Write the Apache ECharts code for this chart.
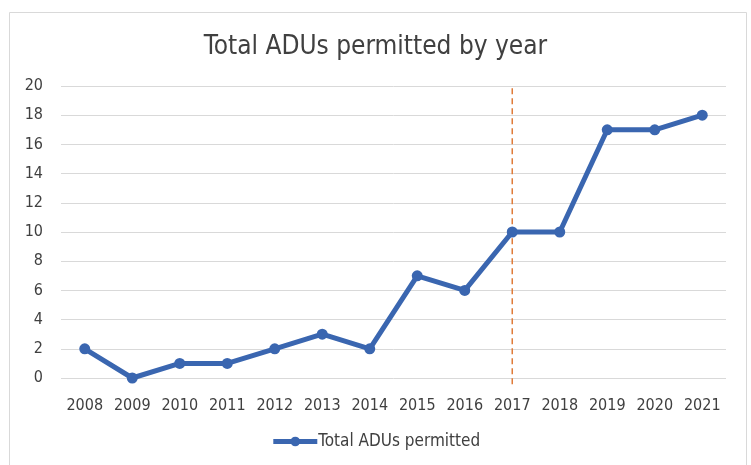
<!DOCTYPE html>
<html>
<head>
<meta charset="utf-8">
<script src="https://cdn.jsdelivr.net/npm/echarts@6/dist/echarts.min.js"></script>
<style>
  html, body { margin: 0; padding: 0; background: #fff; }
  #chart { width: 751px; height: 465px; }
</style>
</head>
<body>
<div id="chart"></div>
<script>
// data
var years = ['2008', '2009', '2010', '2011', '2012', '2013', '2014', '2015', '2016', '2017', '2018', '2019', '2020', '2021'];
var adus = [2, 0, 1, 1, 2, 3, 2, 7, 6, 10, 10, 17, 17, 18];
var markYear = '2017';

var font = '"Liberation Sans Narrow", "DejaVu Sans Condensed", "Liberation Sans", sans-serif';
var markIdx = years.indexOf(markYear);

var chart = echarts.init(document.getElementById('chart'));
chart.setOption({
    animation: false,
    backgroundColor: '#ffffff',
    title: {
        text: 'Total ADUs permitted by year',
        left: 'center',
        top: 29,
        textStyle: { fontFamily: font, fontSize: 26, fontWeight: 'normal', color: '#404040' }
    },
    graphic: [{
        type: 'rect',
        shape: { x: 9.5, y: 12.5, width: 737, height: 470 },
        style: { fill: 'none', stroke: '#d9d9d9', lineWidth: 1 },
        silent: true
    }],
    legend: {
        bottom: 10,
        left: 'center',
        itemWidth: 44,
        itemHeight: 12,
        itemGap: 0,
        lineStyle: { width: 5 },
        textStyle: { fontFamily: font, fontSize: 17, color: '#404040', padding: [0, 0, 0, -4] },
        data: ['Total ADUs permitted']
    },
    grid: { left: 61, right: 25, top: 86, bottom: 87 },
    xAxis: {
        type: 'category',
        data: years,
        boundaryGap: true,
        axisLine: { show: false },
        axisTick: { show: false },
        axisLabel: { fontFamily: font, fontSize: 16, color: '#404040', margin: 20, interval: 0 }
    },
    yAxis: {
        type: 'value',
        min: 0,
        max: 20,
        interval: 2,
        axisLine: { show: false },
        axisTick: { show: false },
        axisLabel: { fontFamily: font, fontSize: 16, color: '#404040', margin: 18 },
        splitLine: { lineStyle: { color: '#d9d9d9', width: 1 } }
    },
    series: [{
        // dashed marker at 2017, runs a little past the zero line like the original
        name: 'marker',
        type: 'custom',
        silent: true,
        z: 1,
        data: [[markIdx, 19.85]],
        renderItem: function (params, api) {
            var top = api.coord([api.value(0), api.value(1)]);
            var bot = api.coord([api.value(0), 0]);
            return {
                type: 'line',
                shape: { x1: top[0], y1: top[1], x2: bot[0], y2: bot[1] + 7 },
                style: { stroke: '#e07b39', lineWidth: 1.5, lineDash: [6, 4] }
            };
        }
    }, {
        name: 'Total ADUs permitted',
        type: 'line',
        z: 2,
        data: adus,
        clip: false,
        symbol: 'circle',
        symbolSize: 11,
        lineStyle: { color: '#3a66b0', width: 5 },
        itemStyle: { color: '#3a66b0' }
    }]
});
</script>
</body>
</html>
